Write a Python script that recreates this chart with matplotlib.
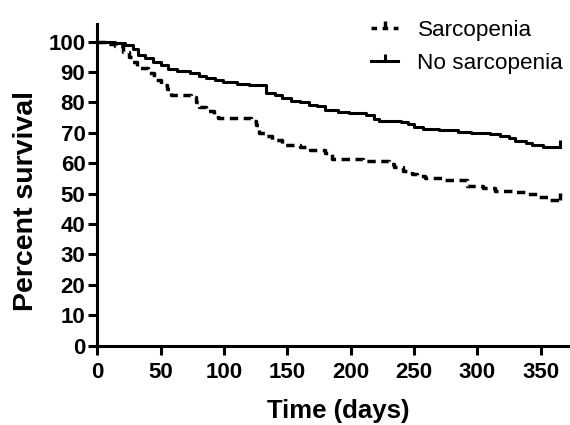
import matplotlib
matplotlib.use("Agg")
import matplotlib.pyplot as plt
from matplotlib.lines import Line2D

# Kaplan-Meier curves (days, percent survival)
no_sarc_t = [0, 14, 22, 28, 32, 38, 44, 50, 56, 63, 73, 80, 86, 93, 99, 110,
             120, 133, 140, 146, 153, 160, 167, 173, 180, 190, 199, 212, 218,
             222, 240, 245, 250, 257, 270, 285, 295, 310, 318, 325, 330, 338,
             343, 352, 365]
no_sarc_s = [100, 99.4, 98.9, 97.5, 95.6, 94.5, 93.3, 92.2, 91.0, 90.3, 89.6,
             88.8, 88.0, 87.3, 86.8, 86.2, 85.6, 83.2, 82.4, 81.4, 80.6, 80.0,
             79.3, 78.8, 77.5, 76.9, 76.4, 75.9, 74.6, 74.0, 73.4, 72.8, 72.0,
             71.3, 70.9, 70.4, 69.9, 69.5, 68.9, 68.2, 67.4, 66.6, 66.0, 65.5,
             65.5]

sarc_t = [0, 8, 14, 20, 25, 27, 31, 40, 45, 50, 55, 58, 74, 78, 80, 86, 92,
          95, 121, 125, 128, 132, 138, 146, 160, 168, 180, 185, 210, 230, 234,
          241, 248, 252, 259, 272, 292, 304, 314, 327, 338, 348, 357, 365]
sarc_s = [100, 99.2, 98.4, 96.7, 95.0, 93.4, 91.2, 89.8, 87.4, 85.8, 84.3,
          82.5, 81.9, 80.3, 78.6, 77.3, 75.9, 74.8, 74.0, 72.6, 70.0, 68.8,
          67.7, 66.0, 65.3, 64.2, 63.3, 61.3, 60.6, 59.6, 58.9, 57.6, 56.5,
          55.8, 55.0, 54.5, 52.5, 51.8, 51.0, 50.7, 49.9, 49.0, 47.9, 47.9]

x_ticks = [0, 50, 100, 150, 200, 250, 300, 350]
y_ticks = list(range(0, 101, 10))

plt.rcParams['font.family'] = ['Liberation Sans', 'DejaVu Sans']

fig = plt.figure(figsize=(5.7, 4.25), dpi=100)
ax = fig.add_axes([0.1707, 0.1866, 0.827, 0.757])

ax.step(no_sarc_t, no_sarc_s, where='post', color='black', lw=2.2)
ax.step(sarc_t, sarc_s, where='post', color='black', lw=2.5,
        dashes=(2.4, 1.6))
# censor ticks at the end of follow-up
ax.plot(no_sarc_t[-1], no_sarc_s[-1], marker=2, ms=5, mew=2.2, color='black')
ax.plot(sarc_t[-1], sarc_s[-1], marker=2, ms=5, mew=2.5, color='black')

ax.set_xlim(0, 372)
ax.set_ylim(0, 105.8)
ax.set_xticks(x_ticks)
ax.set_yticks(y_ticks)

for side in ['top', 'right']:
    ax.spines[side].set_visible(False)
for side in ['left', 'bottom']:
    ax.spines[side].set_linewidth(2.2)
ax.tick_params(direction='out', length=6.5, width=2.2, labelsize=16)
ax.tick_params(axis='x', pad=5)
ax.tick_params(axis='y', pad=2)
for lab in ax.get_xticklabels() + ax.get_yticklabels():
    lab.set_fontweight('bold')

ax.set_xlabel("Time (days)", fontsize=18.5, fontweight='bold')
ax.xaxis.set_label_coords(0.512, -0.165)
ax.set_ylabel("Percent survival", fontsize=20.5, fontweight='bold')
ax.yaxis.set_label_coords(-0.123, 0.45)

handles = [Line2D([], [], color='black', lw=2.5, dashes=(1.6, 1.6),
                  marker=2, ms=5, mew=2.5),
           Line2D([], [], color='black', lw=2.2, marker=2, ms=5, mew=2.2)]
ax.legend(handles, ["Sarcopenia", "No sarcopenia"], loc='upper left',
          bbox_to_anchor=(0.616, 1.0), bbox_transform=fig.transFigure,
          frameon=False, fontsize=16.2, handlelength=1.2, numpoints=1,
          handletextpad=0.85, labelspacing=0.5)

fig.savefig("out.png", dpi=100)
